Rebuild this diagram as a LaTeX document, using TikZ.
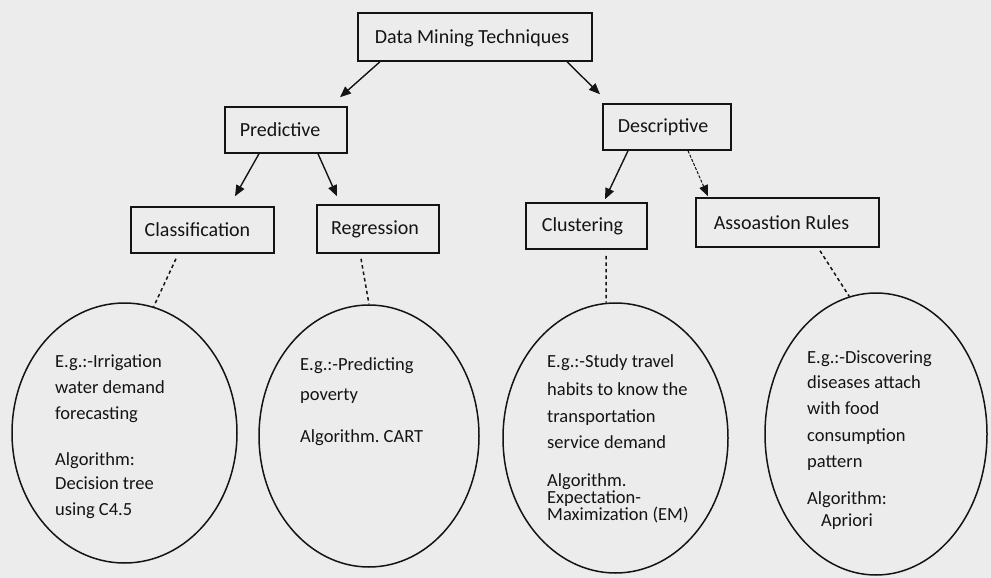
\documentclass[tikz,border=0pt]{standalone}
\usepackage{fontspec}
\setmainfont{Carlito}
\usetikzlibrary{shapes.geometric,arrows.meta}
\definecolor{paper}{RGB}{236,236,236}
\definecolor{ink}{RGB}{20,20,20}
\frenchspacing
\begin{document}
\begin{tikzpicture}[x=1pt,y=-1pt,
  box/.style={draw=ink,line width=1.5pt,rectangle,inner sep=0pt,
    font=\fontsize{20}{24}\selectfont,text=ink},
  oval/.style={draw=ink,line width=1.5pt,ellipse,inner sep=0pt},
  txt/.style={anchor=base west,inner sep=0pt,
    font=\fontsize{18.5}{22}\selectfont,text=ink},
  arr/.style={draw=ink,line width=1.4pt,-{Triangle[length=11pt,width=9pt]}},
  lightarr/.style={arr,line width=1pt,dash pattern=on 3pt off 1.5pt},
  dots/.style={draw=ink,line width=1.5pt,dash pattern=on 3.5pt off 3pt}]

% page
\fill[paper] (0,0) rectangle (991,578);
\useasboundingbox (0,0) rectangle (991,578);

% hierarchy boxes (labels sit a little left of centre)
\node[box,minimum width=234pt,minimum height=48pt,text depth=0pt] (dmt) at (475,37)
  {\hspace*{-6pt}Data Mining Techniques};
\node[box,minimum width=122pt,minimum height=46pt] (pred)  at (286,130)   {\hspace*{-12pt}Predictive};
\node[box,minimum width=128pt,minimum height=46pt] (desc)  at (667,127)   {\hspace*{-8pt}Descriptive};
\node[box,minimum width=143pt,minimum height=46pt] (class) at (202.5,230) {\hspace*{-10pt}Classification};
\node[box,minimum width=122pt,minimum height=48pt] (reg)   at (378,229)   {\hspace*{-6pt}Regression};
\node[box,minimum width=121pt,minimum height=46pt] (clust) at (586.5,226) {\hspace*{-8pt}Clustering};
\node[box,minimum width=183pt,minimum height=49pt] (assoc) at (787.5,222.5) {\hspace*{-12pt}Assoastion Rules};

% example ovals
\node[oval,minimum width=225pt,minimum height=260pt] (e1) at (124.5,433) {};
\node[oval,minimum width=220pt,minimum height=262pt] (e2) at (369,436)   {};
\node[oval,minimum width=225pt,minimum height=270pt] (e3) at (615.5,438) {};
\node[oval,minimum width=222pt,minimum height=282pt] (e4) at (876,434)   {};

% tree arrows
\draw[arr] ([xshift=-95pt]dmt.south) -- ([xshift=54pt,yshift=9pt]pred.north);
\draw[arr] ([xshift=92pt]dmt.south) -- ([xshift=-67pt,yshift=9pt]desc.north);
\draw[arr] ([xshift=-27pt]pred.south) -- ([xshift=32.5pt,yshift=10pt]class.north);
\draw[arr] ([xshift=32pt]pred.south) -- ([xshift=-41pt,yshift=8pt]reg.north);
\draw[arr] ([xshift=-39pt]desc.south) -- ([xshift=18.5pt,yshift=3pt]clust.north);
\draw[lightarr] ([xshift=21pt]desc.south) -- ([xshift=-79.5pt,yshift=1pt]assoc.north);

% links from techniques to examples
\draw[dots] ([xshift=-26.5pt,yshift=-5pt]class.south) -- (e1.77);
\draw[dots] ([xshift=-17pt,yshift=-5pt]reg.south) -- (e2.90);
\draw[dots] ([xshift=19.5pt,yshift=-6pt]clust.south) -- (e3.94);
\draw[dots] ([xshift=32.5pt,yshift=-3pt]assoc.south) -- (e4.101);

% classification example
\node[txt] (c1) at (55,367) {E.g.:-Irrigation};
\node[txt] (c2) at (55,393) {water demand};
\node[txt] (c3) at (55,419) {forecasting};
\node[txt] (c4) at (55,465) {Algorithm:};
\node[txt] (c5) at (55,489) {Decision tree};
\node[txt] (c6) at (55,515) {using C4.5};

% regression example
\node[txt] (r1) at (300,370) {E.g.:-Predicting};
\node[txt] (r2) at (300,400) {poverty};
\node[txt] (r3) at (300,442) {Algorithm. CART};

% clustering example
\node[txt] (k1) at (547,367) {E.g.:-Study travel};
\node[txt] (k2) at (547,395) {habits to know the};
\node[txt] (k3) at (547,422) {transportation};
\node[txt] (k4) at (547,448) {service demand};
\node[txt] (k5) at (547,486) {Algorithm.};
\node[txt] (k6) at (547,503) {Expectation-};
\node[txt] (k7) at (547,520) {Maximization (EM)};

% association example
\node[txt] (a1) at (807,363) {E.g.:-Discovering};
\node[txt] (a2) at (807,388) {diseases attach};
\node[txt] (a3) at (807,414) {with food};
\node[txt] (a4) at (807,441) {consumption};
\node[txt] (a5) at (807,467) {pattern};
\node[txt] (a6) at (807,504) {Algorithm:};
\node[txt] (a7) at (821,526) {Apriori};
\end{tikzpicture}
\end{document}
